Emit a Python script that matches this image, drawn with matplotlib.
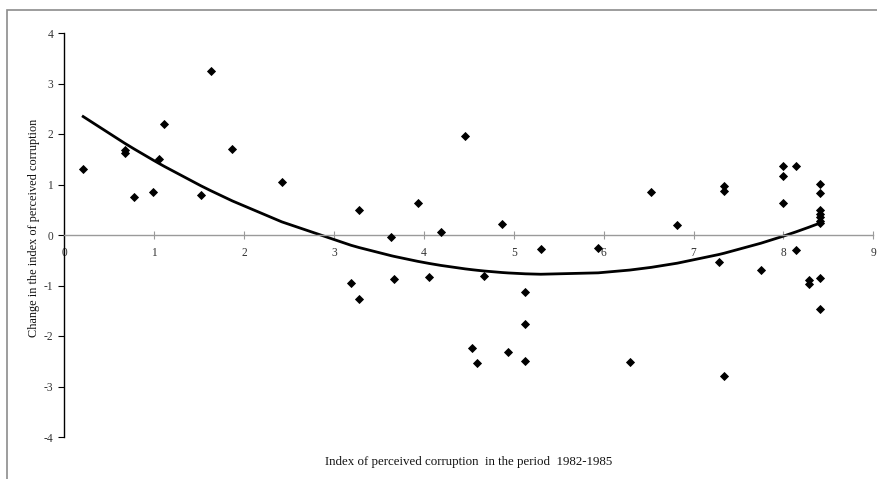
import numpy as np
import matplotlib
matplotlib.use("Agg")
import matplotlib.pyplot as plt
from matplotlib.patches import Rectangle

# Index of perceived corruption, 1982-1985 (x) and its later change (y)
cpi_1982_85 = [0.21, 0.67, 0.67, 0.78, 0.99, 1.05, 1.11, 1.52, 1.63, 1.87,
               2.42, 3.19, 3.28, 3.28, 3.64, 3.67, 3.93, 4.06, 4.19, 4.46,
               4.54, 4.59, 4.67, 4.87, 4.94, 5.13, 5.13, 5.13, 5.30, 5.94,
               6.29, 6.53, 6.82, 7.28, 7.34, 7.34, 7.34, 7.75, 8.00, 8.00,
               8.00, 8.14, 8.14, 8.28, 8.28, 8.41, 8.41, 8.41, 8.41, 8.41,
               8.41, 8.41, 8.41, 8.41]
cpi_change = [1.30, 1.69, 1.63, 0.745, 0.86, 1.50, 2.20, 0.79, 3.24, 1.70,
              1.05, -0.96, 0.50, -1.27, -0.03, -0.87, 0.63, -0.83, 0.06, 1.96,
              -2.23, -2.53, -0.81, 0.22, -2.31, -1.12, -1.76, -2.49, -0.28, -0.25,
              -2.51, 0.86, 0.19, -0.54, 0.98, 0.88, -2.80, -0.69, 1.37, 1.17,
              0.63, 1.37, -0.29, -0.89, -0.97, 1.01, 0.83, 0.50, 0.42, 0.35,
              0.28, 0.23, -0.85, -1.47]

x_ticks = [0, 1, 2, 3, 4, 5, 6, 7, 8, 9]
y_ticks = [-4, -3, -2, -1, 0, 1, 2, 3, 4]
trend_degree = 2

x_label = "Index of perceived corruption  in the period  1982-1985"
y_label = "Change in the index of perceived corruption"

serif = ["Liberation Serif", "DejaVu Serif"]
plt.rcParams["axes.unicode_minus"] = False

fig = plt.figure(figsize=(8.77, 4.79), dpi=100)
W, H = 877, 479
ax = fig.add_axes([64.3 / W, 1 - 437 / H, (873.3 - 64.3) / W, (437 - 33) / H])

# outer frame of the chart area
fig.patches.append(Rectangle((7.3 / W, -0.1), 1.2, (H - 10.3) / H + 0.1,
                             transform=fig.transFigure, fill=False,
                             edgecolor="#8c8c8c", linewidth=1.2))

xs = np.array(cpi_1982_85)
ys = np.array(cpi_change)

# polynomial trend line across the observed range
coef = np.polyfit(xs, ys, trend_degree)
ux = np.unique(xs)
ax.plot(ux, np.polyval(coef, ux), color="black", linewidth=2.0, zorder=2)

ax.plot(xs, ys, linestyle="none", marker="D", markersize=4.5,
        markerfacecolor="black", markeredgecolor="black", markeredgewidth=0.6,
        zorder=3)

ax.set_xlim(0, 9)
ax.set_ylim(-4, 4)
ax.set_xticks(x_ticks)
ax.set_yticks(y_ticks)

for s in ("top", "right"):
    ax.spines[s].set_visible(False)
ax.spines["left"].set_color("black")
ax.spines["left"].set_linewidth(1.0)
ax.spines["bottom"].set_position(("data", 0))
ax.spines["bottom"].set_color("#9a9a9a")
ax.spines["bottom"].set_linewidth(1.0)

ax.tick_params(axis="x", direction="inout", length=6, width=0.8,
               color="#9a9a9a", pad=6, labelsize=8.3, labelcolor="#333333")
ax.tick_params(axis="y", direction="out", length=4, width=0.8,
               color="black", pad=4, labelsize=8.3, labelcolor="#333333")
for lab in ax.get_xticklabels() + ax.get_yticklabels():
    lab.set_family(serif)

fig.text(468.8 / W, 1 - 461.7 / H, x_label, ha="center", va="center",
         fontsize=9.3, family=serif, color="#111111")
fig.text(34 / W, 1 - 228 / H, y_label, ha="center", va="center",
         rotation=90, fontsize=8.8, family=serif, color="#111111")

fig.savefig("out.png", dpi=100)
